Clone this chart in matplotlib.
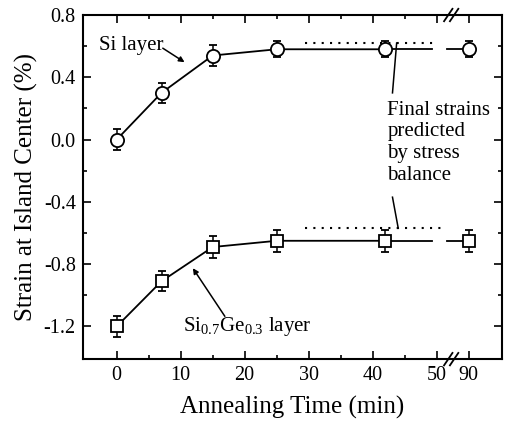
import numpy as np
import matplotlib.pyplot as plt

plt.rcParams['font.family'] = ['Liberation Serif', 'DejaVu Serif']
plt.rcParams['mathtext.fontset'] = 'custom'
plt.rcParams['mathtext.rm'] = 'Liberation Serif'

# annealing times (min); the last one sits past the axis break
times = [0, 7, 15, 25, 42, 90]
si_strain = [0.0, 0.30, 0.54, 0.58, 0.58, 0.58]
si_err = [0.07, 0.065, 0.07, 0.05, 0.05, 0.05]
sige_strain = [-1.20, -0.91, -0.69, -0.65, -0.65, -0.65]
sige_err = [0.07, 0.065, 0.07, 0.07, 0.07, 0.07]

# predicted final strains from stress balance
si_pred = 0.62
sige_pred = -0.57

xticks = [0, 10, 20, 30, 40, 50, 90]


def brk(x):
    # compress the axis: 90 min is drawn at 55
    x = np.asarray(x, dtype=float)
    return np.where(x > 50, x - 35, x)


def draw_series(ax, y, err, marker, ms):
    xp = brk(times)
    ax.plot(xp[:5], y[:5], 'k-', lw=1.3)
    ax.plot([xp[4], 49.3], [y[4], np.interp(49.3, xp[4:], y[4:])], 'k-', lw=1.3)
    ax.plot([51.6, xp[5]], [np.interp(51.6, xp[4:], y[4:]), y[5]], 'k-', lw=1.3)
    ax.errorbar(xp, y, yerr=err, fmt=marker, ms=ms, mfc='white', mec='k',
                mew=1.3, ecolor='k', elinewidth=1.1, capsize=3, zorder=3)


fig = plt.figure(figsize=(5.08, 4.23), dpi=100)
ax = fig.add_axes([0.163, 0.151, 0.825, 0.8135])

draw_series(ax, si_strain, si_err, 'o', 9.5)
draw_series(ax, sige_strain, sige_err, 's', 9)

ax.plot([29.5, 49.7], [si_pred, si_pred], 'k', ls=(0, (1, 3)), lw=1.5)
ax.plot([29.5, 51.2], [sige_pred, sige_pred], 'k', ls=(0, (1, 3)), lw=1.5)

ax.set_xlim(-5.3, 60.2)
ax.set_ylim(-1.41, 0.8)
ax.set_xticks(brk(xticks))
ax.set_xticklabels([str(t) for t in xticks])
ax.set_xticks([5, 15, 25, 35, 45], minor=True)
ax.set_yticks([-1.2, -0.8, -0.4, 0.0, 0.4, 0.8])
ax.set_yticklabels(['-1.2', '-0.8', '-0.4', '0.0', '0.4', '0.8'])
ax.set_yticks([-1.0, -0.6, -0.2, 0.2, 0.6], minor=True)
ax.tick_params(which='both', direction='in', top=True, right=True,
               labelsize=14.5, width=1.2, pad=5)
ax.tick_params(which='major', length=6)
ax.tick_params(which='minor', length=3)
for s in ax.spines.values():
    s.set_linewidth(1.5)

# axis break marks
for yb in (0.0, 1.0):
    for x0 in (0.862, 0.876):
        ax.plot([x0, x0 + 0.02], [yb - 0.018, yb + 0.018],
                transform=ax.transAxes, color='k', lw=1.3, clip_on=False)

ax.set_xlabel('Annealing Time (min)', fontsize=18, labelpad=8)
ax.set_ylabel('Strain at Island Center (%)', fontsize=18, labelpad=4)

arrow = dict(arrowstyle='-|>', color='k', lw=1.1, shrinkA=0, shrinkB=0,
             mutation_scale=8)
ax.text(-2.7, 0.605, 'Si layer', fontsize=15, va='center', ha='left')
ax.annotate('', xy=(10.6, 0.497), xytext=(7.2, 0.587), arrowprops=arrow)

ax.text(10.4, -1.2, r'Si$_{0.7}$Ge$_{0.3}$ layer', fontsize=15,
        va='center', ha='left')
ax.annotate('', xy=(11.9, -0.826), xytext=(16.9, -1.135), arrowprops=arrow)

ax.text(42.3, 0.25, 'Final strains\npredicted\nby stress\nbalance',
        fontsize=15, va='top', ha='left', linespacing=1.2)
ax.plot([43.1, 43.75], [0.30, si_pred], 'k-', lw=1.1)
ax.plot([43.1, 44.0], [-0.37, sige_pred], 'k-', lw=1.1)

fig.savefig('out.png', dpi=100)
